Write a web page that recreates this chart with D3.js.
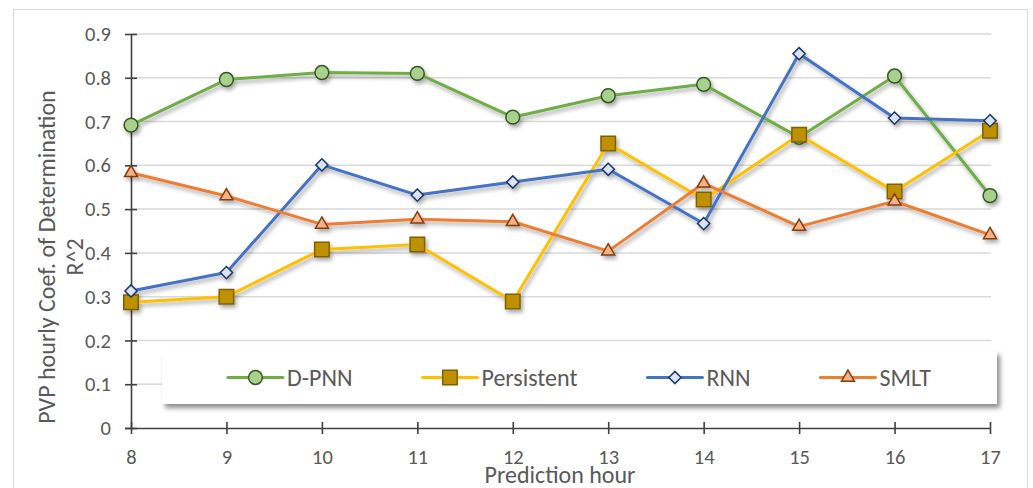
<!DOCTYPE html>
<html>
<head>
<meta charset="utf-8">
<script src="https://cdn.jsdelivr.net/npm/d3@7"></script>
<style>
  html, body { margin: 0; padding: 0; background: #fff; }
  svg { display: block; }
  text { font-family: Carlito, Lato, "Liberation Sans", sans-serif; fill: #595959; }
</style>
</head>
<body>
<svg id="chart" width="1033" height="488"></svg>
<script>
// Prediction hours on the x axis
const hours = [8, 9, 10, 11, 12, 13, 14, 15, 16, 17];

// R^2 per prediction hour for each model
const dpnn       = [0.692, 0.796, 0.812, 0.810, 0.710, 0.759, 0.785, 0.664, 0.804, 0.531];
const persistent = [0.287, 0.300, 0.408, 0.419, 0.289, 0.650, 0.522, 0.670, 0.540, 0.679];
const rnn        = [0.313, 0.355, 0.601, 0.532, 0.562, 0.591, 0.467, 0.855, 0.708, 0.702];
const smlt       = [0.583, 0.530, 0.465, 0.477, 0.471, 0.404, 0.559, 0.460, 0.518, 0.441];

const seriesNames = ["D-PNN", "Persistent", "RNN", "SMLT"];

// Axis ticks and labels
const yTicks = [0, 0.1, 0.2, 0.3, 0.4, 0.5, 0.6, 0.7, 0.8, 0.9];
const yTickLabels = ["0", "0.1", "0.2", "0.3", "0.4", "0.5", "0.6", "0.7", "0.8", "0.9"];
const xTickLabels = ["8", "9", "10", "11", "12", "13", "14", "15", "16", "17"];

const yTitleLines = ["PVP hourly Coef. of Determination", "R^2"];
const xTitle = "Prediction hour";

// Styling per series: line colour, marker fill, marker outline, marker symbol
const styles = [
  { line: "#70AD47", fill: "#A9D18E", stroke: "#385723", symbol: d3.symbolCircle,   size: 150 },
  { line: "#FFC000", fill: "#BF9000", stroke: "#7F6000", symbol: d3.symbolSquare,   size: 210 },
  { line: "#4472C4", fill: "#DAE3F3", stroke: "#1F3864", symbol: d3.symbolDiamond2, size: 95 },
  { line: "#ED7D31", fill: "#F4B183", stroke: "#843C0C", symbol: d3.symbolTriangle2, size: 120 }
];
const seriesValues = [dpnn, persistent, rnn, smlt];

const svg = d3.select("#chart");

// Plot frame
const plot = { left: 131, right: 990, top: 34, bottom: 428 };

const x = d3.scaleLinear().domain([8, 17]).range([plot.left, plot.right]);
const y = d3.scaleLinear().domain([0, 0.9]).range([plot.bottom, plot.top]);

// Shadows
const defs = svg.append("defs");
const sh = defs.append("filter").attr("id", "markShadow")
  .attr("x", "-10%").attr("y", "-10%").attr("width", "130%").attr("height", "130%");
sh.append("feDropShadow").attr("dx", 2).attr("dy", 3).attr("stdDeviation", 2)
  .attr("flood-color", "#000").attr("flood-opacity", 0.35);
const lsh = defs.append("filter").attr("id", "legendShadow")
  .attr("x", "-5%").attr("y", "-30%").attr("width", "110%").attr("height", "170%");
lsh.append("feDropShadow").attr("dx", 3).attr("dy", 4).attr("stdDeviation", 2.5)
  .attr("flood-color", "#000").attr("flood-opacity", 0.45);

// Chart area border
svg.append("rect")
  .attr("x", 13.5).attr("y", 9.5).attr("width", 1014).attr("height", 520)
  .attr("fill", "#fff").attr("stroke", "#d9d9d9").attr("stroke-width", 1);

// Horizontal gridlines
svg.append("g").selectAll("line")
  .data(yTicks.filter(v => v > 0))
  .join("line")
  .attr("x1", plot.left).attr("x2", plot.right + 1)
  .attr("y1", d => y(d)).attr("y2", d => y(d))
  .attr("stroke", "#d9d9d9").attr("stroke-width", 1.5);

// Y axis with ticks crossing the axis line
const yAxis = svg.append("g")
  .attr("transform", `translate(${plot.left},0)`)
  .call(d3.axisLeft(y).tickValues(yTicks)
    .tickFormat((d, i) => yTickLabels[i]).tickSize(6).tickPadding(14));
yAxis.select(".domain").attr("stroke", "#404040").attr("stroke-width", 1.6)
  .attr("d", `M0.5,${plot.top}V${plot.bottom}`);
yAxis.selectAll(".tick line").attr("x1", 6).attr("stroke", "#404040").attr("stroke-width", 1.6);
yAxis.selectAll(".tick text").attr("font-size", 20.5).attr("fill", "#595959")
  .style("font-family", "Carlito, Lato, sans-serif");

// X axis with ticks crossing the axis line
const xAxis = svg.append("g")
  .attr("transform", `translate(0,${plot.bottom})`)
  .call(d3.axisBottom(x).tickValues(hours)
    .tickFormat((d, i) => xTickLabels[i]).tickSize(6).tickPadding(15));
xAxis.select(".domain").attr("stroke", "#404040").attr("stroke-width", 1.6)
  .attr("d", `M${plot.left - 6},0.5H${plot.right}`);
xAxis.selectAll(".tick line").attr("y1", -6).attr("stroke", "#404040").attr("stroke-width", 1.6);
xAxis.selectAll(".tick text").attr("font-size", 20.5).attr("fill", "#595959")
  .style("font-family", "Carlito, Lato, sans-serif");

// Axis titles
const yTitle = svg.append("text")
  .attr("transform", "translate(0,257) rotate(-90)")
  .attr("text-anchor", "middle")
  .attr("font-size", 24);
yTitle.selectAll("tspan").data(yTitleLines).join("tspan")
  .attr("x", 0).attr("y", (d, i) => 55 + i * 28)
  .text(d => d);

svg.append("text")
  .attr("x", 560)
  .attr("y", 483)
  .attr("text-anchor", "middle")
  .attr("font-size", 24)
  .text(xTitle);

// Series lines and markers
const line = d3.line().x(d => x(d.h)).y(d => y(d.v));
const seriesG = svg.append("g").attr("filter", "url(#markShadow)");
seriesValues.forEach((vals, si) => {
  const pts = hours.map((h, i) => ({ h, v: vals[i] }));
  const st = styles[si];
  const g = seriesG.append("g");
  g.append("path").datum(pts)
    .attr("d", line).attr("fill", "none")
    .attr("stroke", st.line).attr("stroke-width", 3)
    .attr("stroke-linejoin", "round").attr("stroke-linecap", "round");
  g.selectAll("path.m").data(pts).join("path").attr("class", "m")
    .attr("transform", d => `translate(${x(d.h)},${y(d.v)})`)
    .attr("d", d3.symbol().type(st.symbol).size(st.size))
    .attr("fill", st.fill).attr("stroke", st.stroke).attr("stroke-width", 1.5);
});

// Legend
const legendBox = { x: 162, y: 351, w: 835, h: 53 };
svg.append("rect")
  .attr("x", legendBox.x).attr("y", legendBox.y)
  .attr("width", legendBox.w).attr("height", legendBox.h)
  .attr("fill", "#fff").attr("filter", "url(#legendShadow)");

const legend = svg.append("g");
const items = legend.selectAll("g").data(seriesNames).join("g");
items.append("text")
  .attr("font-size", 24)
  .attr("dy", "0.35em")
  .text(d => d);
const keyLen = 55, keyGap = 4, itemGap = 70;
const widths = [];
items.select("text").each(function () { widths.push(this.getComputedTextLength()); });
const total = d3.sum(widths) + seriesNames.length * (keyLen + keyGap) + (seriesNames.length - 1) * itemGap;
let cx = legendBox.x + legendBox.w / 2 - total / 2;
const ly = legendBox.y + legendBox.h / 2;
items.each(function (d, i) {
  const g = d3.select(this).attr("transform", `translate(${cx},${ly})`);
  const st = styles[i];
  g.insert("line", "text").attr("x1", 0).attr("x2", keyLen).attr("y1", 0).attr("y2", 0)
    .attr("stroke", st.line).attr("stroke-width", 3).attr("stroke-linecap", "round");
  g.insert("path", "text").attr("transform", `translate(${keyLen / 2},0)`)
    .attr("d", d3.symbol().type(st.symbol).size(st.size))
    .attr("fill", st.fill).attr("stroke", st.stroke).attr("stroke-width", 1.5);
  g.select("text").attr("x", keyLen + keyGap);
  cx += keyLen + keyGap + widths[i] + itemGap;
});
</script>
</body>
</html>
